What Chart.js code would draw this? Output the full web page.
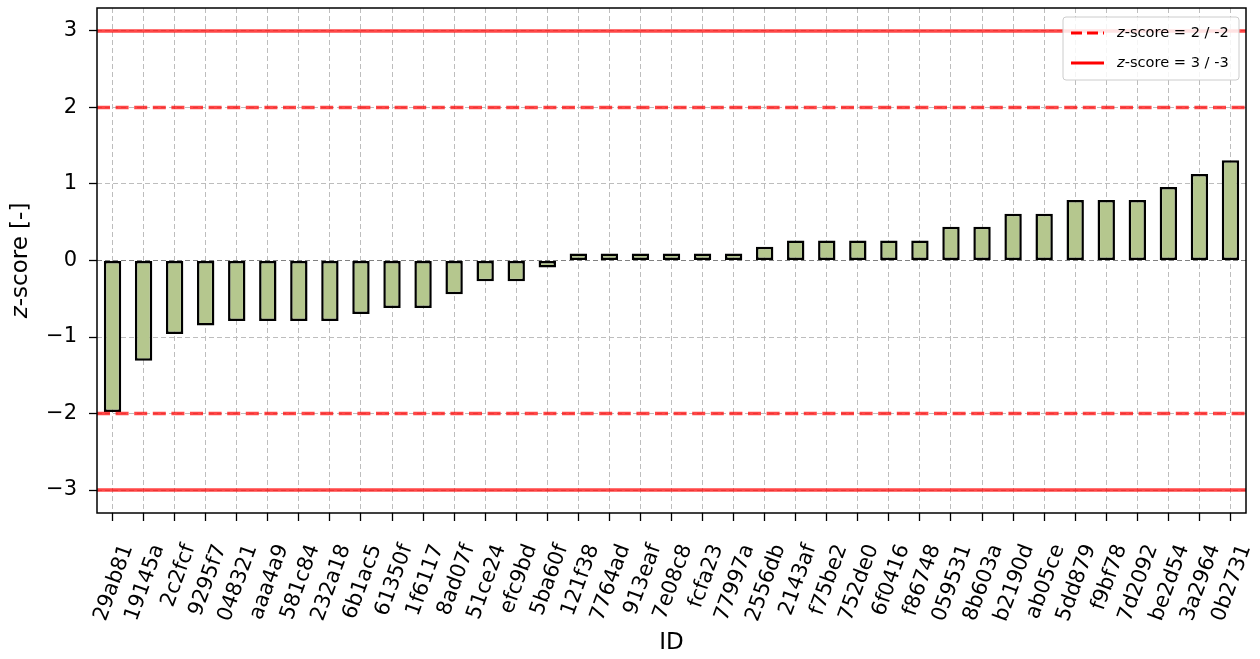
<!DOCTYPE html>
<html>
<head>
<meta charset="utf-8">
<script src="https://cdn.jsdelivr.net/npm/chart.js@4"></script>
<style>
  html, body { margin: 0; padding: 0; background: #fff; }
  #wrap { width: 1260px; height: 659px; position: relative; }
</style>
</head>
<body>
<div id="wrap"><canvas id="zChart"></canvas></div>
<script>
const ids = [
    "29ab81", "19145a", "2c2fcf", "9295f7", "048321", "aaa4a9", "581c84",
    "232a18", "6b1ac5", "61350f", "1f6117", "8ad07f", "51ce24", "efc9bd",
    "5ba60f", "121f38", "7764ad", "913eaf", "7e08c8", "fcfa23", "77997a",
    "2556db", "2143af", "f75be2", "752de0", "6f0416", "f86748", "059531",
    "8b603a", "b2190d", "ab05ce", "5dd879", "f9bf78", "7d2092", "be2d54",
    "3a2964", "0b2731"
];
const zScores = [
    -1.98, -1.31, -0.96, -0.85, -0.79, -0.79, -0.79,
    -0.79, -0.70, -0.62, -0.62, -0.44, -0.27, -0.27,
    -0.09, 0.09, 0.09, 0.09, 0.09, 0.09, 0.09,
    0.18, 0.26, 0.26, 0.26, 0.26, 0.26, 0.44,
    0.44, 0.61, 0.61, 0.79, 0.79, 0.79, 0.96,
    1.13, 1.31
];
const yTicks = [-3, -2, -1, 0, 1, 2, 3];
const dashedLevels = [2, -2];
const solidLevels = [3, -3];
const legendLabels = ["-score = 2 / -2", "-score = 3 / -3"];

const FONT = "'DejaVu Sans', sans-serif";
const RED = "rgba(255,0,0,0.72)";

// z kursiv, Rest normal
function drawZText(c, rest, x, y, size, align) {
    c.font = "italic " + size + "px " + FONT;
    const wz = c.measureText("z").width;
    c.font = size + "px " + FONT;
    const wr = c.measureText(rest).width;
    let x0 = align === "center" ? x - (wz + wr) / 2 : x;
    c.textAlign = "left";
    c.textBaseline = "middle";
    c.font = "italic " + size + "px " + FONT;
    c.fillText("z", x0, y);
    c.font = size + "px " + FONT;
    c.fillText(rest, x0 + wz, y);
}

const extras = {
    id: "extras",
    afterDatasetsDraw(chart) {
        const c = chart.ctx;
        const a = chart.chartArea;
        const y = chart.scales.y;
        c.save();
        c.beginPath();
        c.rect(a.left, a.top, a.right - a.left, a.bottom - a.top);
        c.clip();
        c.strokeStyle = RED;
        c.lineWidth = 3.6;
        dashedLevels.forEach(v => {
            const py = y.getPixelForValue(v);
            c.setLineDash([13, 5.6]);
            c.beginPath(); c.moveTo(a.left, py); c.lineTo(a.right, py); c.stroke();
        });
        solidLevels.forEach(v => {
            const py = y.getPixelForValue(v);
            c.setLineDash([]);
            c.beginPath(); c.moveTo(a.left, py); c.lineTo(a.right, py); c.stroke();
        });
        c.restore();
    },
    afterDraw(chart) {
        const c = chart.ctx;
        const a = chart.chartArea;
        c.save();
        // Rahmen
        c.strokeStyle = "#000";
        c.lineWidth = 1.5;
        c.setLineDash([]);
        c.strokeRect(a.left, a.top, a.right - a.left, a.bottom - a.top);

        // y-Achsentitel
        c.fillStyle = "#000";
        c.translate(21, (a.top + a.bottom) / 2);
        c.rotate(-Math.PI / 2);
        drawZText(c, "-score [-]", 0, 0, 23, "center");
        c.setTransform(1, 0, 0, 1, 0, 0);

        // Legende
        const lx = 1063, ly = 17, lw = 176, lh = 63;
        c.beginPath();
        c.roundRect(lx, ly, lw, lh, 3);
        c.fillStyle = "rgba(255,255,255,0.85)";
        c.fill();
        c.strokeStyle = "#cccccc";
        c.lineWidth = 1;
        c.stroke();
        [33, 63].forEach((py, i) => {
            c.strokeStyle = "#ff0000";
            c.lineWidth = 3;
            c.setLineDash(i === 0 ? [11, 5] : []);
            c.beginPath(); c.moveTo(1071, py); c.lineTo(1104, py); c.stroke();
            c.setLineDash([]);
            c.fillStyle = "#000";
            drawZText(c, legendLabels[i], 1117, py, 14.6, "left");
        });
        c.restore();
    }
};

new Chart(document.getElementById("zChart"), {
    type: "bar",
    data: {
        labels: ids,
        datasets: [{
            data: zScores,
            backgroundColor: "#b5c78e",
            borderColor: "#000",
            borderWidth: 2.5,
            borderSkipped: false,
            barPercentage: 0.56,
            categoryPercentage: 1.0
        }]
    },
    options: {
        responsive: true,
        maintainAspectRatio: false,
        animation: false,
        layout: { padding: { left: 0, top: 8, right: 14, bottom: 0 } },
        plugins: { legend: { display: false }, tooltip: { enabled: false } },
        scales: {
            x: {
                offset: true,
                grid: {
                    offset: false,
                    color: "#bdbdbd",
                    lineWidth: 1,
                    tickColor: "#000",
                    tickLength: 8,
                    tickWidth: 1.3
                },
                border: { display: false, dash: [5, 3] },
                ticks: {
                    autoSkip: false,
                    maxRotation: 70,
                    minRotation: 70,
                    labelOffset: 15,
                    padding: 20,
                    color: "#000",
                    font: { family: FONT, size: 21 }
                },
                title: {
                    display: true,
                    text: "ID",
                    color: "#000",
                    font: { family: FONT, size: 23 },
                    padding: { top: 4, bottom: 2 }
                },
                afterFit: s => {
                    s.height = 146;
                    s.paddingLeft = 0;
                    s.paddingRight = 0;
                }
            },
            y: {
                min: -3.3,
                max: 3.3,
                afterBuildTicks: s => { s.ticks = yTicks.map(v => ({ value: v })); },
                grid: {
                    color: ctx => ctx.tick && ctx.tick.value === 0 ? "#808080" : "#bdbdbd",
                    lineWidth: 1,
                    tickColor: "#000",
                    tickLength: 8,
                    tickWidth: 1.3
                },
                border: { display: false, dash: [5, 3] },
                ticks: {
                    padding: 12,
                    color: "#000",
                    font: { family: FONT, size: 21 },
                    callback: v => String(v).replace("-", "\u2212")
                },
                afterFit: s => {
                    s.width = 97;
                    s.paddingTop = 0;
                    s.paddingBottom = 0;
                }
            }
        }
    },
    plugins: [extras]
});
</script>
</body>
</html>
